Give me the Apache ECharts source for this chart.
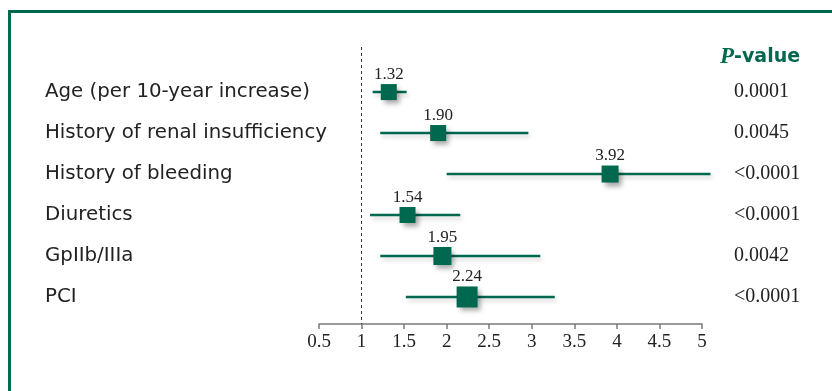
<!DOCTYPE html>
<html>
<head>
<meta charset="utf-8">
<script src="https://cdn.jsdelivr.net/npm/echarts@6/dist/echarts.min.js"></script>
<style>
  html, body { margin: 0; padding: 0; background: #ffffff; }
  #chart { width: 832px; height: 391px; }
</style>
</head>
<body>
<div id="chart"></div>
<script>
// Predictors of bleeding: odds ratios with 95% confidence intervals
const predictors = [
  'Age (per 10-year increase)',
  'History of renal insufficiency',
  'History of bleeding',
  'Diuretics',
  'GpIIb/IIIa',
  'PCI'
];
const oddsRatios = [1.32, 1.90, 3.92, 1.54, 1.95, 2.24];
const ciLower = [1.13, 1.22, 2.00, 1.10, 1.22, 1.52];
const ciUpper = [1.53, 2.96, 5.10, 2.16, 3.10, 3.27];
const pValues = ['0.0001', '0.0045', '<0.0001', '<0.0001', '0.0042', '<0.0001'];
const xTicks = [0.5, 1, 1.5, 2, 2.5, 3, 3.5, 4, 4.5, 5];

// box size per row (styling only)
const boxSizes = [16, 16, 17, 16, 18, 21];

const GREEN = '#00684f';
const TEXT = '#222222';
const SERIF = '"Liberation Serif", "DejaVu Serif", serif';
const SANS = '"DejaVu Sans", "Open Sans", sans-serif';
const rowIdx = predictors.map((_, i) => i);

const chart = echarts.init(document.getElementById('chart'), null, { renderer: 'canvas' });

chart.setOption({
  animation: false,
  backgroundColor: '#ffffff',
  title: {
    text: '{p|P}{v|-value}',
    left: 715,
    top: 41,
    textStyle: {
      rich: {
        p: { fontFamily: SERIF, fontStyle: 'italic', fontWeight: 'bold', fontSize: 23, color: GREEN },
        v: { fontFamily: SANS, fontWeight: 'bold', fontSize: 19, color: GREEN }
      }
    }
  },
  graphic: [{
    type: 'rect',
    silent: true,
    shape: { x: 9.5, y: 11.5, width: 1000, height: 1000 },
    style: { fill: 'none', stroke: GREEN, lineWidth: 3 }
  }],
  grid: { left: 319, right: 130, top: 47, bottom: 67 },
  xAxis: {
    type: 'value',
    min: 0.5,
    max: 5,
    interval: 0.5,
    splitLine: { show: false },
    axisLine: { show: true, onZero: false, lineStyle: { color: '#7a7a7a', width: 1.5 } },
    axisTick: { show: true, length: 5, lineStyle: { color: '#7a7a7a', width: 1.5 } },
    axisLabel: {
      margin: 9,
      color: TEXT,
      fontFamily: SERIF,
      fontSize: 19,
      formatter: v => (xTicks.indexOf(v) >= 0 ? String(v) : '')
    }
  },
  yAxis: [{
    type: 'value',
    inverse: true,
    min: -1.1,
    max: 5.66,
    splitLine: { show: false },
    axisLine: { show: false },
    axisTick: { show: false },
    axisLabel: {
      customValues: rowIdx,
      align: 'left',
      margin: 274,
      color: TEXT,
      fontFamily: SANS,
      fontSize: 19.8,
      formatter: v => predictors[v] || ''
    }
  }, {
    type: 'value',
    inverse: true,
    position: 'right',
    min: -1.1,
    max: 5.66,
    splitLine: { show: false },
    axisLine: { show: false },
    axisTick: { show: false },
    axisLabel: {
      customValues: rowIdx,
      align: 'left',
      margin: 32,
      color: TEXT,
      fontFamily: SERIF,
      fontSize: 20,
      formatter: v => pValues[v] || ''
    }
  }],
  series: [{
    // confidence interval whiskers
    type: 'custom',
    clip: false,
    data: rowIdx.map(i => [ciLower[i], ciUpper[i], i]),
    encode: { x: [0, 1], y: 2 },
    renderItem: (params, api) => {
      const y = api.value(2);
      const a = api.coord([api.value(0), y]);
      const b = api.coord([api.value(1), y]);
      return {
        type: 'line',
        shape: { x1: a[0], y1: a[1], x2: b[0], y2: b[1] },
        style: {
          stroke: GREEN,
          lineWidth: 2.5,
          shadowColor: 'rgba(0,0,0,0.18)',
          shadowBlur: 4,
          shadowOffsetX: 2,
          shadowOffsetY: 3
        }
      };
    },
    z: 2
  }, {
    // odds ratio boxes
    type: 'scatter',
    symbol: 'rect',
    data: rowIdx.map(i => [oddsRatios[i], i]),
    symbolSize: (val, params) => boxSizes[params.dataIndex],
    itemStyle: {
      color: GREEN,
      opacity: 1,
      shadowColor: 'rgba(0,0,0,0.35)',
      shadowBlur: 5,
      shadowOffsetX: 3,
      shadowOffsetY: 4
    },
    label: {
      show: true,
      position: 'top',
      distance: 1,
      color: TEXT,
      fontFamily: SERIF,
      fontSize: 17,
      formatter: p => p.value[0].toFixed(2)
    },
    markLine: {
      silent: true,
      symbol: ['none', 'none'],
      label: { show: false },
      lineStyle: { color: '#333333', type: [3, 3], width: 1 },
      data: [{ xAxis: 1 }]
    },
    z: 3
  }]
});
</script>
</body>
</html>
